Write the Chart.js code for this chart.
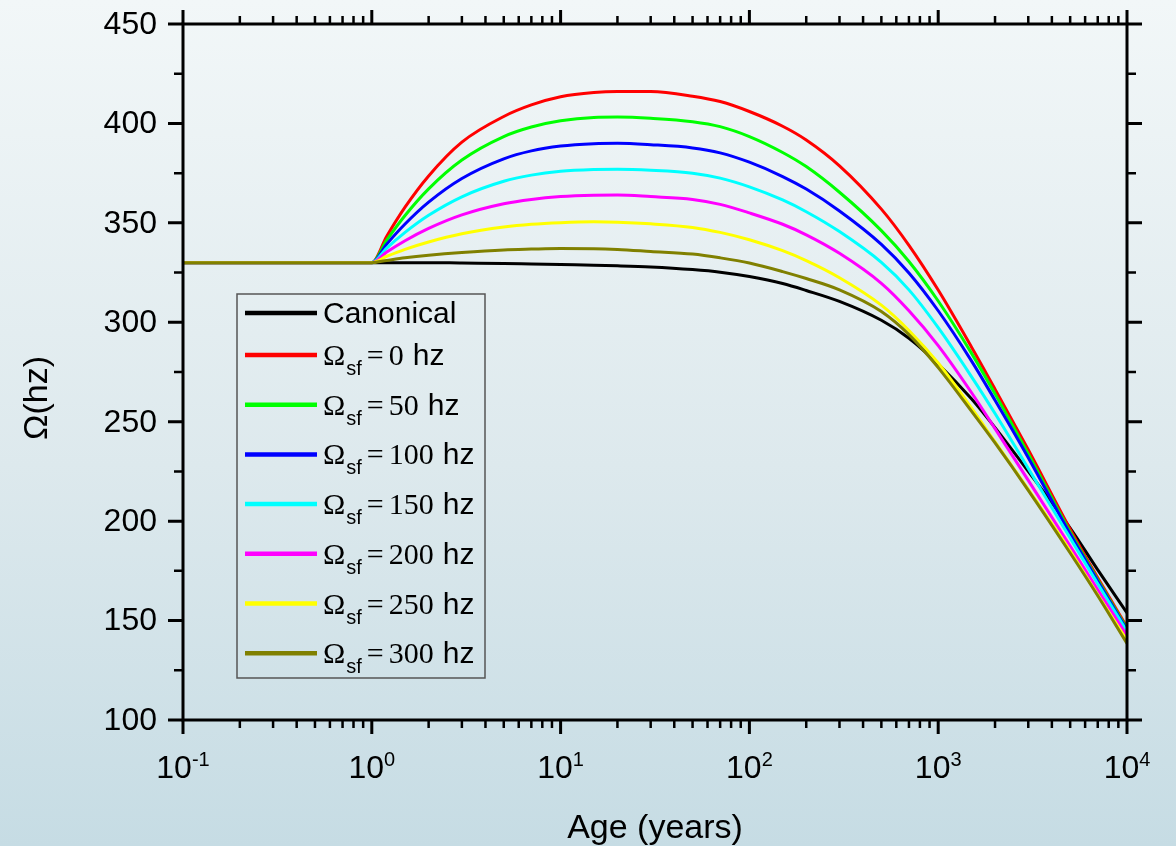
<!DOCTYPE html>
<html>
<head>
<meta charset="utf-8">
<script src="https://cdn.jsdelivr.net/npm/chart.js@4.4.0/dist/chart.umd.min.js"></script>
<style>
  html, body { margin: 0; padding: 0; }
  body {
    width: 1176px; height: 846px; overflow: hidden;
    background: linear-gradient(to bottom, #f2f7f8 0%, #dde9ed 55%, #c6dce4 100%);
  }
  canvas { display: block; }
</style>
</head>
<body>
<canvas id="spinChart" width="1176" height="846"></canvas>
<script>
// edad (años) en escala log
const ages = [0.1, 1, 1.2, 1.5, 2, 3, 5, 7, 10, 15, 20, 30, 50, 70, 100, 150, 200, 300, 500, 700, 1000, 1500, 2000, 3000, 5000, 7000, 10000];

// Omega (hz)
const canonical = [330, 330, 330, 330, 330, 329.8, 329.6, 329.3, 329, 328.7, 328.4, 327.8, 326.5, 325.2, 323, 319.5, 316, 310.5, 301, 292, 279, 261.5, 247, 225, 196.5, 175.5, 153.8];
const sf0   = [330, 330, 343.3, 357.9, 373.6, 390.6, 403.5, 409.3, 413.4, 415.5, 416, 416, 413.7, 411, 406, 398.6, 391.7, 378.7, 356.9, 338.7, 316.2, 287.6, 266.4, 235.9, 196, 171.5, 146.8];
const sf50  = [330, 330, 341.3, 353.7, 367.1, 381.6, 393.4, 398.2, 401.3, 403, 403.2, 402.6, 400.9, 398.4, 393.4, 385.4, 378.3, 365.4, 346.1, 330.6, 310.7, 284.5, 264, 233.8, 194.5, 170.5, 145.9];
const sf100 = [330, 330, 339.3, 349.4, 360.4, 372.3, 382.2, 386.2, 388.6, 389.8, 390, 389.3, 387.7, 385.2, 380.5, 373.3, 367, 356, 339.2, 324.8, 305.8, 280.6, 260.8, 231.9, 193.5, 169.8, 145.2];
const sf150 = [330, 330, 337.3, 345.2, 353.8, 363.1, 370.9, 374, 375.9, 376.8, 377, 376.5, 375, 372.5, 368.1, 361.5, 355.6, 345.6, 330.1, 316.3, 297.3, 272.7, 254.1, 226.5, 191.5, 168.5, 144.5];
const sf200 = [330, 330, 335.3, 341, 347.2, 354, 359.6, 361.8, 363.2, 363.9, 364, 363.2, 361.8, 359.3, 355, 349.3, 344, 334.7, 319.6, 305.8, 288.3, 264.7, 246.5, 220.5, 187.5, 165.5, 142.5];
const sf250 = [330, 330, 333.2, 336.7, 340.4, 344.5, 347.9, 349.3, 350.1, 350.5, 350.3, 349.5, 347.7, 345.2, 341.5, 336, 331, 322.4, 308.6, 295.9, 279.5, 256.9, 239.9, 216, 185, 163, 140];
const sf300 = [330, 330, 331.1, 332.4, 333.7, 335.1, 336.4, 336.8, 337.1, 337, 336.6, 335.6, 334.3, 332.4, 329.8, 325.5, 322, 316.3, 305.4, 293.8, 277.2, 255.3, 239.3, 215.5, 184, 162.5, 138.5];

const sfValues = [0, 50, 100, 150, 200, 250, 300];
const sfSeries = [sf0, sf50, sf100, sf150, sf200, sf250, sf300];
const sfColors = ['#ff0000', '#00ff00', '#0000ff', '#00ffff', '#ff00ff', '#ffff00', '#808000'];

const yTicks = [100, 150, 200, 250, 300, 350, 400, 450];
const xExponents = [-1, 0, 1, 2, 3, 4];

const SANS = '"Liberation Sans", Arial, sans-serif';
const SERIF = '"Liberation Serif", "Times New Roman", serif';

function toPoints(vals) {
    return vals.map((v, i) => ({ x: ages[i], y: v }));
}

const datasets = [{
    label: 'Canonical',
    data: toPoints(canonical),
    borderColor: '#000000',
    order: 8
}];
sfSeries.forEach((s, i) => {
    datasets.push({
        label: 'Ωsf = ' + sfValues[i] + ' hz',
        data: toPoints(s),
        borderColor: sfColors[i],
        order: 7 - i
    });
});

// ejes, ticks, etiquetas y leyenda
const framePlugin = {
    id: 'frame',
    afterDatasetsDraw(chart) {
        const { ctx, chartArea: a, scales: { x, y } } = chart;
        ctx.save();
        ctx.strokeStyle = '#000';
        ctx.fillStyle = '#000';

        // ticks eje y (izq. y der.)
        for (let v = 100; v <= 450; v += 25) {
            const py = y.getPixelForValue(v);
            const major = v % 50 === 0;
            const len = major ? 15 : 9;
            ctx.lineWidth = major ? 3 : 2.5;
            ctx.beginPath();
            ctx.moveTo(a.left, py); ctx.lineTo(a.left - len, py);
            ctx.moveTo(a.right, py); ctx.lineTo(a.right + len, py);
            ctx.stroke();
        }

        // ticks eje x (arriba y abajo)
        xExponents.forEach(e => {
            const ms = e === 4 ? [1] : [1, 2, 3, 4, 5, 6, 7, 8, 9];
            ms.forEach(m => {
                const px = x.getPixelForValue(m * Math.pow(10, e));
                const major = m === 1;
                const len = major ? 14 : 8;
                ctx.lineWidth = major ? 3 : 2.5;
                ctx.beginPath();
                ctx.moveTo(px, a.bottom); ctx.lineTo(px, a.bottom + len);
                ctx.moveTo(px, a.top); ctx.lineTo(px, a.top - len);
                ctx.stroke();
            });
        });

        ctx.lineWidth = 3;
        ctx.strokeRect(a.left, a.top, a.right - a.left, a.bottom - a.top);

        // etiquetas y
        ctx.font = '32px ' + SANS;
        ctx.textAlign = 'right';
        ctx.textBaseline = 'middle';
        yTicks.forEach(v => {
            ctx.fillText(String(v), a.left - 26, y.getPixelForValue(v) + 1);
        });

        // etiquetas x: 10^n
        ctx.textBaseline = 'alphabetic';
        ctx.textAlign = 'left';
        xExponents.forEach(e => {
            const px = x.getPixelForValue(Math.pow(10, e));
            const exp = e < 0 ? '-' + Math.abs(e) : String(e);
            ctx.font = '32px ' + SANS;
            const w1 = ctx.measureText('10').width;
            ctx.font = '20px ' + SANS;
            const w2 = ctx.measureText(exp).width;
            const x0 = px - (w1 + w2) / 2;
            ctx.font = '32px ' + SANS;
            ctx.fillText('10', x0, 778);
            ctx.font = '20px ' + SANS;
            ctx.fillText(exp, x0 + w1, 766);
        });

        // titulos
        ctx.font = '34px ' + SANS;
        ctx.textAlign = 'center';
        ctx.fillText('Age (years)', (a.left + a.right) / 2, 838);

        ctx.save();
        ctx.translate(38, 398);
        ctx.rotate(-Math.PI / 2);
        ctx.textBaseline = 'middle';
        ctx.fillText('Ω(hz)', 0, 0);
        ctx.restore();

        // leyenda
        const lx = 237, ly = 294, lw = 248, lh = 384;
        ctx.lineWidth = 1.5;
        ctx.strokeStyle = '#555';
        ctx.strokeRect(lx, ly, lw, lh);

        const rows = datasets.map((d, i) => ly + 19 + (i === 0 ? 0 : 42 + (i - 1) * 49.7));
        datasets.forEach((d, i) => {
            const ry = rows[i];
            ctx.strokeStyle = d.borderColor;
            ctx.lineWidth = 4.5;
            ctx.beginPath();
            ctx.moveTo(245, ry); ctx.lineTo(317, ry);
            ctx.stroke();

            ctx.fillStyle = '#000';
            ctx.textAlign = 'left';
            if (i === 0) {
                ctx.font = '30px ' + SANS;
                ctx.textBaseline = 'middle';
                ctx.fillText(d.label, 323, ry + 2);
                return;
            }
            ctx.textBaseline = 'alphabetic';
            let cx = 323;
            ctx.font = '30px ' + SERIF;
            ctx.fillText('Ω', cx, ry + 10);
            cx += ctx.measureText('Ω').width + 1;
            ctx.font = '20px ' + SANS;
            ctx.fillText('sf', cx, ry + 20);
            cx += ctx.measureText('sf').width + 5;
            ctx.font = '30px ' + SERIF;
            ctx.fillText('=', cx, ry + 10);
            cx += ctx.measureText('=').width + 5;
            const num = String(sfValues[i - 1]);
            ctx.fillText(num, cx, ry + 10);
            cx += ctx.measureText(num).width + 9;
            ctx.font = '30px ' + SANS;
            ctx.fillText('hz', cx, ry + 10);
        });

        ctx.restore();
    }
};

new Chart(document.getElementById('spinChart').getContext('2d'), {
    type: 'line',
    data: { datasets: datasets },
    options: {
        responsive: false,
        animation: false,
        layout: { padding: { left: 183, right: 49, top: 24, bottom: 126 } },
        plugins: { legend: { display: false }, tooltip: { enabled: false } },
        elements: {
            point: { radius: 0 },
            line: { borderWidth: 3, cubicInterpolationMode: 'monotone' }
        },
        scales: {
            x: { type: 'logarithmic', min: 0.1, max: 10000, display: false },
            y: { type: 'linear', min: 100, max: 450, display: false }
        }
    },
    plugins: [framePlugin]
});
</script>
</body>
</html>
